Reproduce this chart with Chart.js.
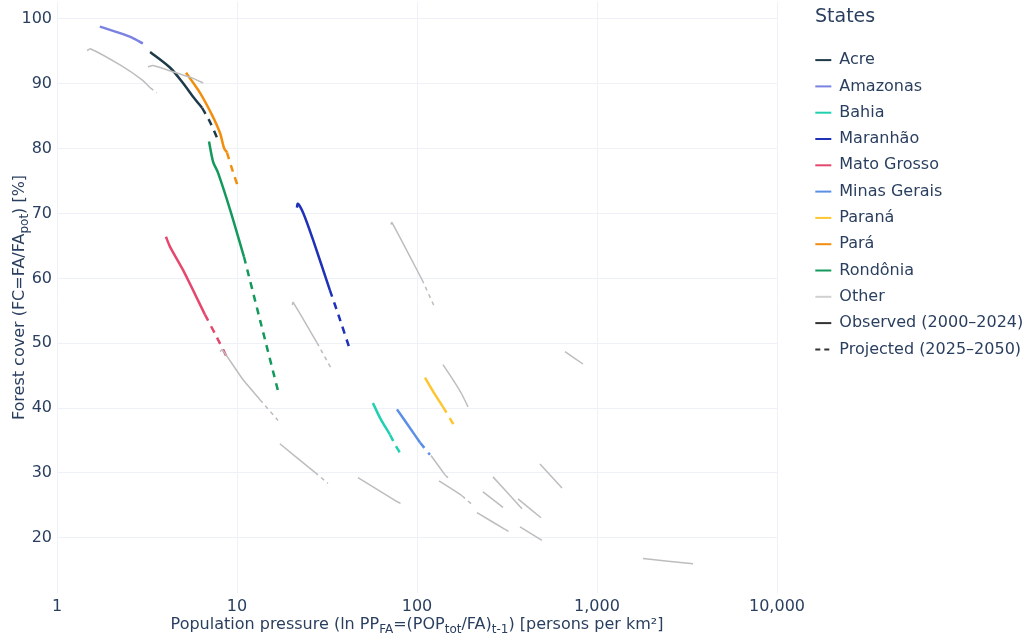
<!DOCTYPE html>
<html>
<head>
<meta charset="utf-8">
<script src="https://cdn.jsdelivr.net/npm/chart.js@4.4.1/dist/chart.umd.min.js"></script>
<style>
  html, body { margin: 0; padding: 0; background: #fff; }
  #wrap { width: 1025px; height: 641px; }
</style>
</head>
<body>
<div id="wrap"><canvas id="grafico"></canvas></div>
<script>
// [population pressure PP_FA (persons per km²), forest cover FC (%)]
const stateNames = ['Acre', 'Amazonas', 'Bahia', 'Maranhão', 'Mato Grosso', 'Minas Gerais', 'Paraná', 'Pará', 'Rondônia'];

const acreObserved = [[3.29, 94.9], [4.24, 92.5], [5.01, 90.1], [5.70, 88.0], [6.39, 86.3]];
const acreProjected = [[6.39, 86.3], [7.08, 84.1], [7.74, 81.7]];
const amazonasObserved = [[1.73, 98.8], [2.24, 97.8], [2.61, 97.1], [3.0, 96.2]];
const amazonasProjected = [];
const bahiaObserved = [[56.9, 40.8], [62.3, 38.5], [70.8, 35.9]];
const bahiaProjected = [[70.8, 35.9], [75.5, 34.4], [80.4, 33.1]];
const maranhaoObserved = [[21.5, 70.9], [21.8, 71.5], [23.3, 70.1], [26.4, 66.0], [32.8, 58.2]];
const maranhaoProjected = [[32.8, 58.2], [37.5, 53.5], [42.4, 49.0]];
const matoGrossoObserved = [[4.03, 66.4], [4.24, 64.9], [5.01, 61.3], [6.64, 54.4]];
const matoGrossoProjected = [[6.64, 54.4], [7.7, 51.0], [8.8, 47.8]];
const minasObserved = [[77.4, 39.8], [90.0, 37.2], [103.9, 34.7]];
const minasProjected = [[103.9, 34.7], [118.0, 32.8]];
const paranaObserved = [[110.8, 44.7], [124.0, 42.4], [139.4, 40.2]];
const paranaProjected = [[139.4, 40.2], [162.6, 37.1]];
const paraObserved = [[5.21, 91.7], [6.23, 88.6], [7.26, 85.2], [8.05, 82.4], [8.47, 80.1], [8.80, 79.4]];
const paraProjected = [[8.80, 79.4], [9.5, 76.4], [10.26, 73.7]];
const rondoniaObserved = [[6.99, 81.1], [7.36, 78.0], [7.84, 76.3], [9.15, 70.6], [10.94, 63.3]];
const rondoniaProjected = [[10.94, 63.3], [13.42, 53.6], [17.1, 42.1]];

const observedByState = [acreObserved, amazonasObserved, bahiaObserved, maranhaoObserved, matoGrossoObserved,
  minasObserved, paranaObserved, paraObserved, rondoniaObserved];
const projectedByState = [acreProjected, amazonasProjected, bahiaProjected, maranhaoProjected, matoGrossoProjected,
  minasProjected, paranaProjected, paraProjected, rondoniaProjected];

// remaining states, grey
const otherObserved = [
  [[1.47, 95.1], [1.53, 95.4], [2.24, 92.9], [2.97, 90.6], [3.29, 89.4]],
  [[3.2, 92.6], [3.41, 92.8], [4.24, 92.0], [5.62, 90.9], [6.49, 90.1]],
  [[8.05, 48.7], [8.28, 49.0], [10.79, 44.4], [13.42, 41.3]],
  [[17.3, 34.5], [27.1, 30.1]],
  [[20.3, 55.9], [20.5, 56.3], [27.8, 50.1]],
  [[71.5, 68.3], [72.6, 68.6], [106.6, 59.8]],
  [[139.4, 46.7], [160.0, 44.2], [177.8, 42.1], [192.0, 40.2]],
  [[47.0, 29.3], [77.4, 25.6]],
  [[119.6, 32.7], [143.1, 29.7]],
  [[132.5, 28.8], [177.8, 26.5]],
  [[215.4, 23.9], [308.2, 21.3]],
  [[232.6, 27.1], [300.6, 24.7]],
  [[264.3, 29.4], [383.0, 24.5]],
  [[364.0, 26.0], [488.6, 23.1]],
  [[373.5, 21.7], [494.7, 19.6]],
  [[482.2, 31.4], [639.1, 27.7]],
  [[664.0, 48.7], [836.0, 46.8]],
  [[1802, 16.8], [3415, 16.0]]
];
const otherProjected = [
  [[3.29, 89.4], [3.59, 88.6]],
  [],
  [[13.42, 41.3], [16.9, 38.1]],
  [[27.1, 30.1], [32.0, 28.4]],
  [[27.8, 50.1], [33.7, 45.9]],
  [[106.6, 59.8], [124.2, 55.8]],
  [],
  [[77.4, 25.6], [83.6, 25.1]],
  [[143.1, 29.7], [152.5, 29.0]],
  [[177.8, 26.5], [204.8, 25.0]],
  [[308.2, 21.3], [332.7, 20.8]],
  [], [], [], [], [], [], []
];

const xTicks = [1, 10, 100, 1000, 10000];
const yTicks = [20, 30, 40, 50, 60, 70, 80, 90, 100];

// styles
const stateColors = ['#1d3a4b', '#7a82e2', '#1fd0b1', '#1f31b8', '#e5476d', '#5b8fe6', '#fdc530', '#f28e0e', '#14995c'];
const otherColor = '#bdbdbd';
const textColor = '#2a3f5f';
const gridColor = '#eef2f8';
const fontFamily = '"DejaVu Sans", Verdana, sans-serif';
const dashState = [7, 6];
const dashOther = [4, 4];

const toPoints = arr => arr.map(([x, y]) => ({ x, y }));

const datasets = [];
otherObserved.forEach((seg, i) => {
  datasets.push({ data: toPoints(seg), borderColor: otherColor, borderWidth: 1.5, tension: 0.2 });
  if (otherProjected[i].length) {
    datasets.push({ data: toPoints(otherProjected[i]), borderColor: otherColor, borderWidth: 1.5, borderDash: dashOther });
  }
});
stateNames.forEach((name, i) => {
  datasets.push({ label: name, data: toPoints(observedByState[i]), borderColor: stateColors[i], borderWidth: 2.5, tension: 0.3 });
  if (projectedByState[i].length) {
    datasets.push({ label: name, data: toPoints(projectedByState[i]), borderColor: stateColors[i], borderWidth: 2.5, borderDash: dashState, tension: 0.3 });
  }
});
datasets.forEach(d => { d.showLine = true; d.pointRadius = 0; d.pointHoverRadius = 0; d.fill = false; });

const legendEntries = stateNames.map((name, i) => ({ text: name, color: stateColors[i], dash: [] }))
  .concat([
    { text: 'Other', color: '#d0d0d0', dash: [] },
    { text: 'Observed (2000–2024)', color: '#333333', dash: [] },
    { text: 'Projected (2025–2050)', color: '#333333', dash: [5, 4] }
  ]);

// legend sits 28px right of the plot, title in line with the items
const legendPlacement = {
  id: 'legendPlacement',
  afterInit(chart) {
    const lg = chart.legend;
    const fit = lg.fit;
    lg.fit = function () { fit.call(this); this.width = 248; };
    ['drawTitle', '_drawTitle'].forEach(name => {
      const orig = lg[name];
      if (typeof orig !== 'function') return;
      lg[name] = function () {
        this.ctx.save();
        this.ctx.translate(10, 0);
        orig.call(this);
        this.ctx.restore();
      };
    });
  },
  afterLayout(chart) {
    chart.legend.left += 28;
    chart.legend.right += 28;
  }
};

// axis titles with subscripts
function drawRich(ctx, parts, cx, cy, size) {
  const big = size + 'px ' + fontFamily;
  const small = Math.round(size * 0.72) + 'px ' + fontFamily;
  let total = 0;
  parts.forEach(p => { ctx.font = p.sub ? small : big; total += ctx.measureText(p.t).width; });
  let x = cx - total / 2;
  ctx.textAlign = 'left';
  ctx.textBaseline = 'middle';
  ctx.fillStyle = textColor;
  parts.forEach(p => {
    ctx.font = p.sub ? small : big;
    ctx.fillText(p.t, x, p.sub ? cy + size * 0.3 : cy);
    x += ctx.measureText(p.t).width;
  });
}
const axisTitles = {
  id: 'axisTitles',
  afterDraw(chart) {
    const { ctx, chartArea } = chart;
    ctx.save();
    drawRich(ctx, [
      { t: 'Population pressure (ln PP' }, { t: 'FA', sub: true }, { t: '=(POP' }, { t: 'tot', sub: true },
      { t: '/FA)' }, { t: 't-1', sub: true }, { t: ') [persons per km²]' }
    ], (chartArea.left + chartArea.right) / 2, 625, 16);
    ctx.translate(20, (chartArea.top + chartArea.bottom) / 2);
    ctx.rotate(-Math.PI / 2);
    drawRich(ctx, [{ t: 'Forest cover (FC=FA/FA' }, { t: 'pot', sub: true }, { t: ') [%]' }], 0, 0, 16);
    ctx.restore();
  }
};

new Chart(document.getElementById('grafico'), {
  type: 'scatter',
  data: { datasets },
  options: {
    responsive: true,
    maintainAspectRatio: false,
    animation: false,
    layout: { padding: { top: 2, right: 0, bottom: 0, left: 0 } },
    scales: {
      x: {
        type: 'logarithmic',
        min: 1,
        max: 10000,
        afterBuildTicks: s => { s.ticks = xTicks.map(v => ({ value: v })); },
        afterFit: s => { s.height = 48; s.paddingLeft = 0; s.paddingRight = 0; },
        ticks: {
          callback: v => Number(v).toLocaleString('en-US'),
          color: textColor, font: { family: fontFamily, size: 16 }, padding: 4,
          maxRotation: 0, autoSkip: false
        },
        grid: { color: gridColor, drawTicks: false },
        border: { display: false }
      },
      y: {
        min: 11.5,
        max: 102.6,
        afterBuildTicks: s => { s.ticks = yTicks.map(v => ({ value: v })); },
        afterFit: s => { s.width = 57; s.paddingTop = 0; s.paddingBottom = 0; },
        ticks: { color: textColor, font: { family: fontFamily, size: 16 }, padding: 5 },
        grid: { color: gridColor, drawTicks: false },
        border: { display: false }
      }
    },
    plugins: {
      tooltip: { enabled: false },
      legend: {
        position: 'right',
        align: 'start',
        onClick: null,
        title: {
          display: true, text: 'States', position: 'start', color: textColor,
          font: { family: fontFamily, size: 19 }, padding: { top: 6, bottom: 11 }
        },
        labels: {
          usePointStyle: true,
          pointStyleWidth: 16,
          padding: 10.3,
          color: textColor,
          font: { family: fontFamily, size: 16 },
          generateLabels: () => legendEntries.map(e => ({
            text: e.text, fillStyle: e.color, strokeStyle: e.color, lineWidth: 2,
            lineDash: e.dash, pointStyle: 'line', fontColor: textColor, hidden: false
          }))
        }
      }
    }
  },
  plugins: [legendPlacement, axisTitles]
});
</script>
</body>
</html>
